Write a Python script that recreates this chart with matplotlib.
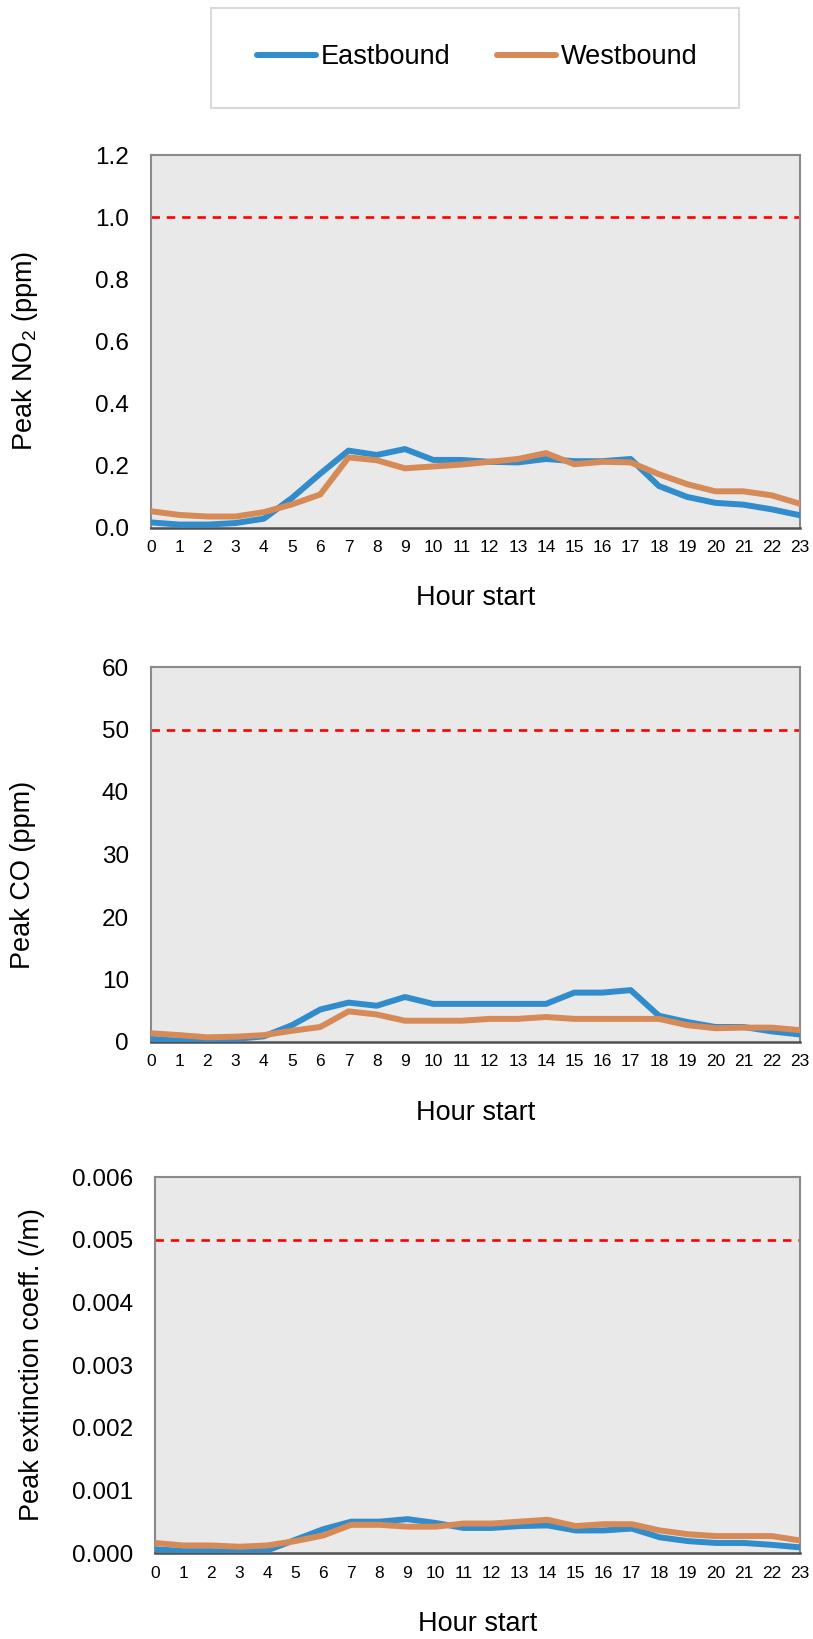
import matplotlib
matplotlib.use('Agg')
import matplotlib.pyplot as plt
from matplotlib.patches import Rectangle
from matplotlib.ticker import MultipleLocator, FormatStrFormatter

plt.rcParams['font.family'] = ['Liberation Sans', 'DejaVu Sans']
plt.rcParams['mathtext.fontset'] = 'custom'
plt.rcParams['mathtext.rm'] = 'Liberation Sans'
plt.rcParams['mathtext.default'] = 'regular'

# Hourly peak values per direction
hours = list(range(24))

no2_east = [0.018, 0.011, 0.011, 0.016, 0.030, 0.097, 0.175, 0.249, 0.235, 0.254, 0.219, 0.219,
            0.213, 0.211, 0.222, 0.215, 0.215, 0.222, 0.135, 0.100, 0.081, 0.075, 0.060, 0.041]
no2_west = [0.054, 0.042, 0.037, 0.037, 0.051, 0.076, 0.108, 0.227, 0.218, 0.192, 0.198, 0.204,
            0.213, 0.222, 0.241, 0.205, 0.213, 0.211, 0.173, 0.141, 0.118, 0.118, 0.105, 0.078]

co_east = [0.5, 0.2, 0.2, 0.5, 0.9, 2.7, 5.2, 6.3, 5.8, 7.2, 6.1, 6.1,
           6.1, 6.1, 6.1, 7.9, 7.9, 8.3, 4.2, 3.2, 2.4, 2.4, 1.7, 1.2]
co_west = [1.4, 1.1, 0.75, 0.85, 1.1, 1.8, 2.4, 4.9, 4.4, 3.4, 3.4, 3.4,
           3.7, 3.7, 4.0, 3.7, 3.7, 3.7, 3.7, 2.7, 2.2, 2.3, 2.3, 1.9]

ext_east = [0.00006, 0.00003, 0.00003, 0.00002, 0.00004, 0.00021, 0.00038, 0.00050,
            0.00050, 0.00054, 0.00048, 0.00040, 0.00040, 0.00043, 0.00044, 0.00036,
            0.00036, 0.00039, 0.00025, 0.00019, 0.00016, 0.00016, 0.00013, 0.00009]
ext_west = [0.00016, 0.00012, 0.00012, 0.00010, 0.00012, 0.00019, 0.00028, 0.00045,
            0.00045, 0.00042, 0.00042, 0.00047, 0.00047, 0.00050, 0.00053, 0.00043,
            0.00046, 0.00046, 0.00036, 0.00030, 0.00027, 0.00027, 0.00027, 0.00020]

# Limits (dashed red lines)
no2_limit = 1.0
co_limit = 50
ext_limit = 0.005

EAST_COLOR = '#318ccc'
WEST_COLOR = '#d68a58'
BG = '#e9e9e9'

W, H = 813, 1639
fig = plt.figure(figsize=(W / 100, H / 100), dpi=100)


def px_rect(x0, y0, x1, y1):
    return [x0 / W, 1 - y1 / H, (x1 - x0) / W, (y1 - y0) / H]


def panel(rect, east, west, limit, ymax, step, fmt, ylabel, ylab_xy):
    ax = fig.add_axes(rect)
    ax.set_facecolor(BG)
    ax.plot(hours, east, color=EAST_COLOR, lw=4.3, solid_capstyle='round',
            solid_joinstyle='round', label='Eastbound', zorder=3)
    ax.plot(hours, west, color=WEST_COLOR, lw=4.3, solid_capstyle='round',
            solid_joinstyle='round', label='Westbound', zorder=4)
    ax.axhline(limit, color='#ff0000', lw=1.9, dashes=(3.2, 2.6), zorder=2)
    ax.set_xlim(0, 23)
    ax.set_ylim(0, ymax)
    ax.set_xticks(hours)
    ax.yaxis.set_major_locator(MultipleLocator(step))
    ax.yaxis.set_major_formatter(FormatStrFormatter(fmt))
    ax.tick_params(axis='x', length=0, pad=9, labelsize=12.5)
    ax.tick_params(axis='y', length=0, pad=16, labelsize=17.5)
    for s in ['left', 'top', 'right']:
        ax.spines[s].set_color('#8a8a8a')
        ax.spines[s].set_linewidth(1.5)
    ax.spines['bottom'].set_color('#505050')
    ax.spines['bottom'].set_linewidth(1.8)
    ax.set_xlabel('Hour start', fontsize=19.5, va='center')
    ax.xaxis.set_label_coords(0.5, -0.188)
    ax.set_ylabel(ylabel, fontsize=19.5, va='center')
    ax.yaxis.set_label_coords(*ylab_xy)
    return ax


ax1 = panel(px_rect(151, 155, 800, 528), no2_east, no2_west, no2_limit, 1.2, 0.2, '%.1f',
            'Peak NO$_2$ (ppm)', (-0.194, 0.474))
ax2 = panel(px_rect(151, 667, 800, 1042), co_east, co_west, co_limit, 60, 10, '%d',
            'Peak CO (ppm)', (-0.197, 0.445))
ax3 = panel(px_rect(155, 1177, 800, 1553), ext_east, ext_west, ext_limit, 0.006, 0.001, '%.3f',
            'Peak extinction coeff. (/m)', (-0.191, 0.5))

# Shared legend in a framed box above the panels
fig.patches.append(Rectangle((211 / W, 1 - 108 / H), 528 / W, 100 / H,
                             transform=fig.transFigure, facecolor='white',
                             edgecolor='#d9d9d9', linewidth=1.5, zorder=0))
handles, labels = ax1.get_legend_handles_labels()
fig.legend(handles, labels, loc='center', bbox_to_anchor=(477 / W, 1 - 57 / H),
           ncol=2, frameon=False, fontsize=19.5, handlelength=2.2,
           handletextpad=0.17, columnspacing=1.7)

fig.savefig('out.png', dpi=100)
plt.close(fig)
